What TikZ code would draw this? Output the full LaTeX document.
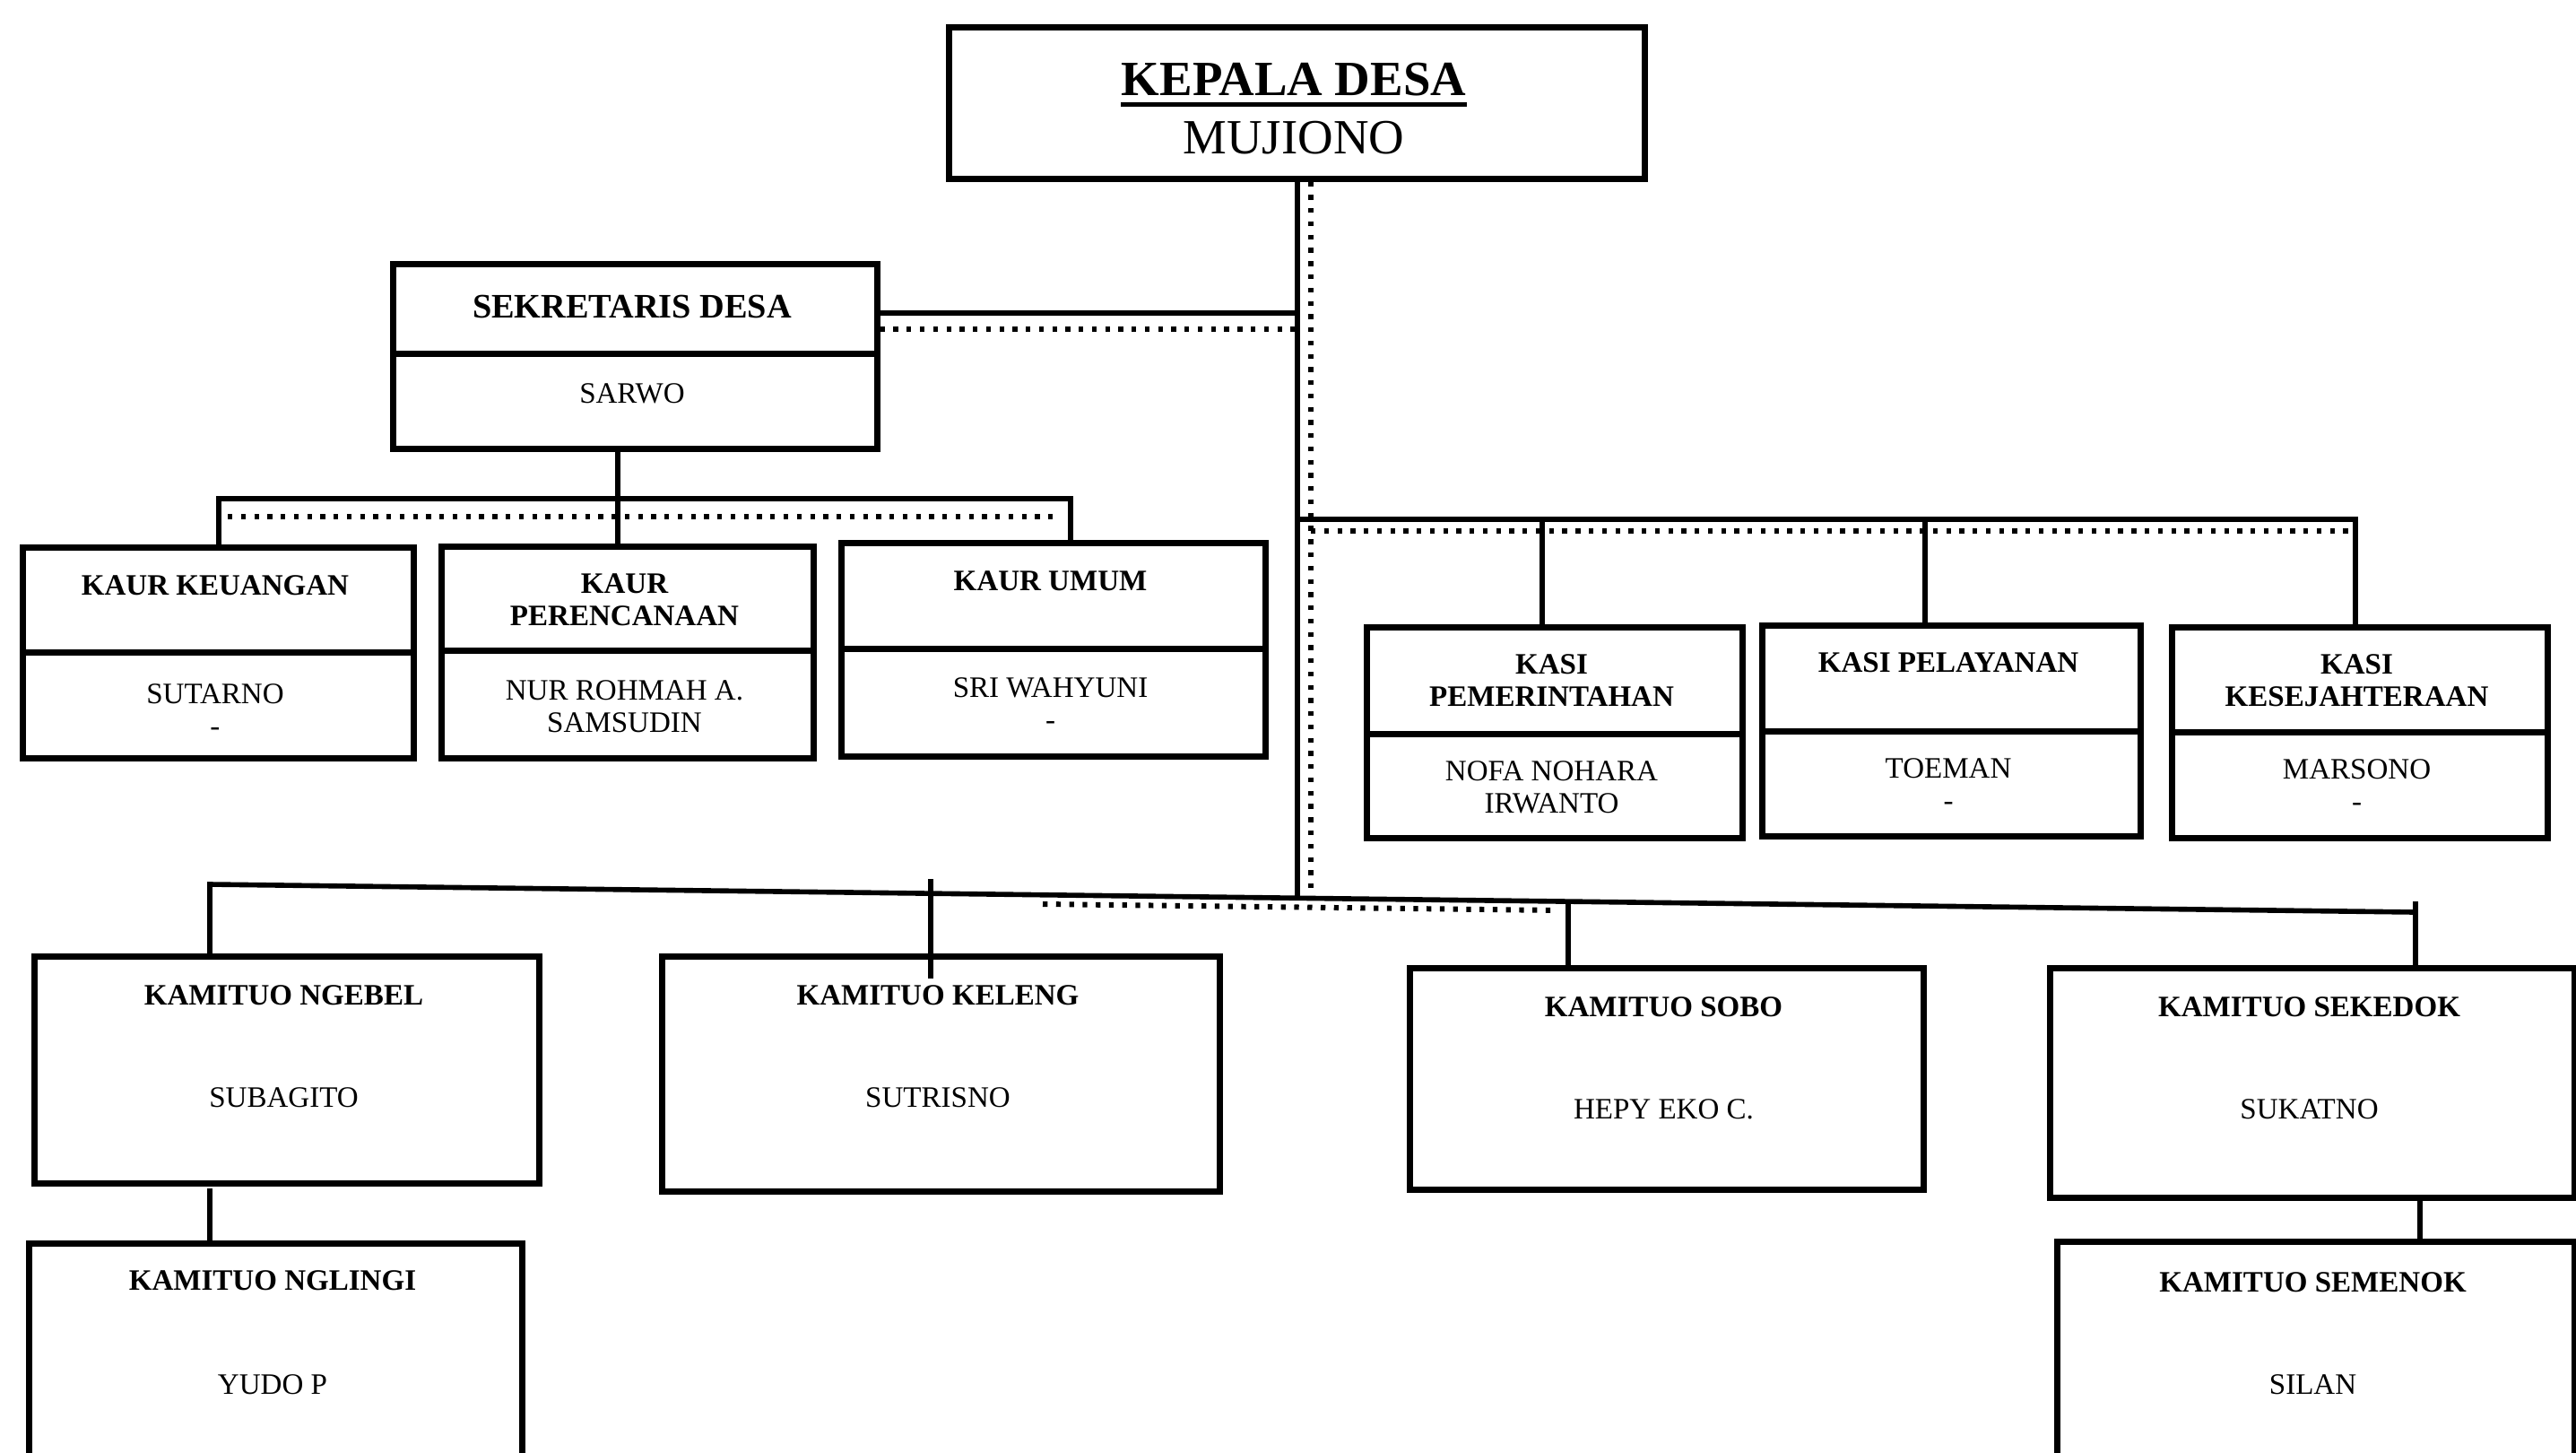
\documentclass[tikz,border=0pt]{standalone}
\usepackage{fontspec}
\setmainfont{Liberation Serif}
\newcommand\orgfont{\fontsize{9.4}{10.3}\selectfont}
\newcommand\sekfont{\fontsize{10.9}{12}\selectfont}
\newcommand\kdfont{\fontsize{15.6}{18}\selectfont}
\tikzset{
  box/.style={draw, line width=1.9pt, inner sep=0pt, anchor=north west},
  ttl/.style={font=\orgfont\bfseries, inner sep=0pt, anchor=north, align=center},
  nm/.style={font=\orgfont, inner sep=0pt, anchor=north, align=center},
  conn/.style={line width=1.6pt},
  dots/.style={line width=1.7pt, dash pattern=on 1.5pt off 2.7pt},
}
\begin{document}
\begin{tikzpicture}
  \useasboundingbox (0,0) rectangle (28.73,-16.19);
  \clip (0,0) rectangle (28.73,-16.19);

  % Kepala desa
  \node[box, minimum width=7.76cm, minimum height=1.69cm] (kepala) at (10.55,-0.27) {};
  \node[inner sep=0pt, anchor=north, font=\kdfont\bfseries] (kdttl) at (14.43,-0.69) {KEPALA DESA};
  \node[inner sep=0pt, anchor=north, font=\kdfont] (kdnm) at (14.43,-1.34) {MUJIONO};
  \draw[line width=1.4pt] ([yshift=-0.09cm]kdttl.south west) -- ([yshift=-0.09cm]kdttl.south east);

  % Sekretaris desa
  \node[box, minimum width=5.40cm, minimum height=1.00cm] (sek1) at (4.35,-2.91) {};
  \node[box, minimum width=5.40cm, minimum height=1.06cm] (sek2) at (4.35,-3.91) {};
  \node[ttl, font=\sekfont\bfseries] (sekttl) at (7.05,-3.28) {SEKRETARIS DESA};
  \node[nm] (seknm) at (7.05,-4.27) {SARWO};

  % Kaur
  \node[box, minimum width=4.36cm, minimum height=1.17cm] (kaur1a) at (0.22,-6.07) {};
  \node[box, minimum width=4.36cm, minimum height=1.18cm] (kaur1b) at (0.22,-7.24) {};
  \node[ttl] (kaur1t) at (2.40,-6.41) {KAUR KEUANGAN};
  \node[nm] (kaur1n) at (2.40,-7.62) {SUTARNO\\-};

  \node[box, minimum width=4.15cm, minimum height=1.16cm] (kaur2a) at (4.89,-6.06) {};
  \node[box, minimum width=4.15cm, minimum height=1.20cm] (kaur2b) at (4.89,-7.22) {};
  \node[ttl] (kaur2t) at (6.965,-6.39) {KAUR\\PERENCANAAN};
  \node[nm] (kaur2n) at (6.965,-7.58) {NUR ROHMAH A.\\SAMSUDIN};

  \node[box, minimum width=4.73cm, minimum height=1.18cm] (kaur3a) at (9.35,-6.02) {};
  \node[box, minimum width=4.73cm, minimum height=1.20cm] (kaur3b) at (9.35,-7.20) {};
  \node[ttl] (kaur3t) at (11.715,-6.36) {KAUR UMUM};
  \node[nm] (kaur3n) at (11.715,-7.55) {SRI WAHYUNI\\-};

  % Kasi
  \node[box, minimum width=4.19cm, minimum height=1.19cm] (kasi1a) at (15.21,-6.96) {};
  \node[box, minimum width=4.19cm, minimum height=1.16cm] (kasi1b) at (15.21,-8.15) {};
  \node[ttl] (kasi1t) at (17.305,-7.29) {KASI\\PEMERINTAHAN};
  \node[nm] (kasi1n) at (17.305,-8.48) {NOFA NOHARA\\IRWANTO};

  \node[box, minimum width=4.22cm, minimum height=1.18cm] (kasi2a) at (19.62,-6.94) {};
  \node[box, minimum width=4.22cm, minimum height=1.17cm] (kasi2b) at (19.62,-8.12) {};
  \node[ttl] (kasi2t) at (21.73,-7.27) {KASI PELAYANAN};
  \node[nm] (kasi2n) at (21.73,-8.45) {TOEMAN\\-};

  \node[box, minimum width=4.19cm, minimum height=1.17cm] (kasi3a) at (24.19,-6.96) {};
  \node[box, minimum width=4.19cm, minimum height=1.18cm] (kasi3b) at (24.19,-8.13) {};
  \node[ttl] (kasi3t) at (26.285,-7.29) {KASI\\KESEJAHTERAAN};
  \node[nm] (kasi3n) at (26.285,-8.46) {MARSONO\\-};

  % Kamituo
  \node[box, minimum width=5.63cm, minimum height=2.53cm] (ngebel) at (0.35,-10.63) {};
  \node[ttl] (ngebelt) at (3.165,-10.98) {KAMITUO NGEBEL};
  \node[nm] (ngebeln) at (3.165,-12.12) {SUBAGITO};

  \node[box, minimum width=6.22cm, minimum height=2.62cm] (keleng) at (7.35,-10.63) {};
  \node[ttl] (kelengt) at (10.46,-10.98) {KAMITUO KELENG};
  \node[nm] (kelengn) at (10.46,-12.12) {SUTRISNO};

  \node[box, minimum width=5.73cm, minimum height=2.47cm] (sobo) at (15.69,-10.76) {};
  \node[ttl] (sobot) at (18.555,-11.11) {KAMITUO SOBO};
  \node[nm] (sobon) at (18.555,-12.25) {HEPY EKO C.};

  \node[box, minimum width=5.85cm, minimum height=2.56cm] (sekedok) at (22.83,-10.76) {};
  \node[ttl] (sekedokt) at (25.755,-11.11) {KAMITUO SEKEDOK};
  \node[nm] (sekedokn) at (25.755,-12.25) {SUKATNO};

  \node[box, minimum width=5.50cm, minimum height=2.60cm] (nglingi) at (0.29,-13.83) {};
  \node[ttl] (nglingit) at (3.04,-14.16) {KAMITUO NGLINGI};
  \node[nm] (nglingin) at (3.04,-15.32) {YUDO P};

  \node[box, minimum width=5.77cm, minimum height=2.60cm] (semenok) at (22.91,-13.81) {};
  \node[ttl] (semenokt) at (25.795,-14.18) {KAMITUO SEMENOK};
  \node[nm] (semenokn) at (25.795,-15.32) {SILAN};

  % Spine
  \coordinate (spine) at (14.47,-10.01);
  \coordinate (dspine) at (14.62,-10.01);
  \draw[conn] (kepala.south -| spine) -- (spine);
  \draw[dots] (kepala.south -| dspine) -- (dspine);

  % Sekretaris link
  \coordinate (sekjoin) at (14.47,-3.49);
  \coordinate (sekdot) at (14.47,-3.67);
  \draw[conn] (sekjoin -| sek1.east) -- (sekjoin);
  \draw[dots] (sekdot -| sek1.east) -- (sekdot);

  % Kaur bus
  \coordinate (kbusL) at (2.44,-5.56);
  \coordinate (kbusM) at (6.89,-5.56);
  \coordinate (kbusR) at (11.94,-5.56);
  \draw[conn] (sek2.south -| kbusM) -- (kaur2a.north -| kbusM);
  \draw[conn] (kaur1a.north -| kbusL) -- (kbusL) -- (kbusR) -- (kaur3a.north -| kbusR);
  \draw[dots] (2.54,-5.76) -- (11.80,-5.76);

  % Kasi bus
  \coordinate (kasibus) at (14.47,-5.79);
  \coordinate (ks1) at (17.20,-5.79);
  \coordinate (ks2) at (21.47,-5.79);
  \coordinate (ks3) at (26.27,-5.79);
  \draw[conn] (kasibus) -- (ks3) -- (ks3 |- kasi3a.north);
  \draw[conn] (ks1) -- (ks1 |- kasi1a.north);
  \draw[conn] (ks2) -- (ks2 |- kasi2a.north);
  \draw[dots] (14.62,-5.92) -- (26.22,-5.92);

  % Kamituo bus
  \coordinate (bbL) at (2.34,-9.86);
  \coordinate (bbR) at (26.94,-10.17);
  \coordinate (kel) at (10.38,-9.80);
  \coordinate (sob) at (17.49,-10.05);
  \coordinate (tick) at (26.94,-10.05);
  \draw[conn] (ngebel.north -| bbL) -- (bbL) -- (bbR);
  \draw[conn] (kel) -- (kel |- keleng.north) -- ++(0,-0.28);
  \draw[conn] (sob) -- (sob |- sobo.north);
  \draw[conn] (tick) -- (tick |- sekedok.north);
  \draw[dots] (11.63,-10.08) -- (17.38,-10.15);

  \coordinate (ngl) at (2.34,-13.25);
  \coordinate (sem) at (26.99,-13.32);
  \draw[conn] (ngl) -- (ngl |- nglingi.north);
  \draw[conn] (sem) -- (sem |- semenok.north);
\end{tikzpicture}
\end{document}
